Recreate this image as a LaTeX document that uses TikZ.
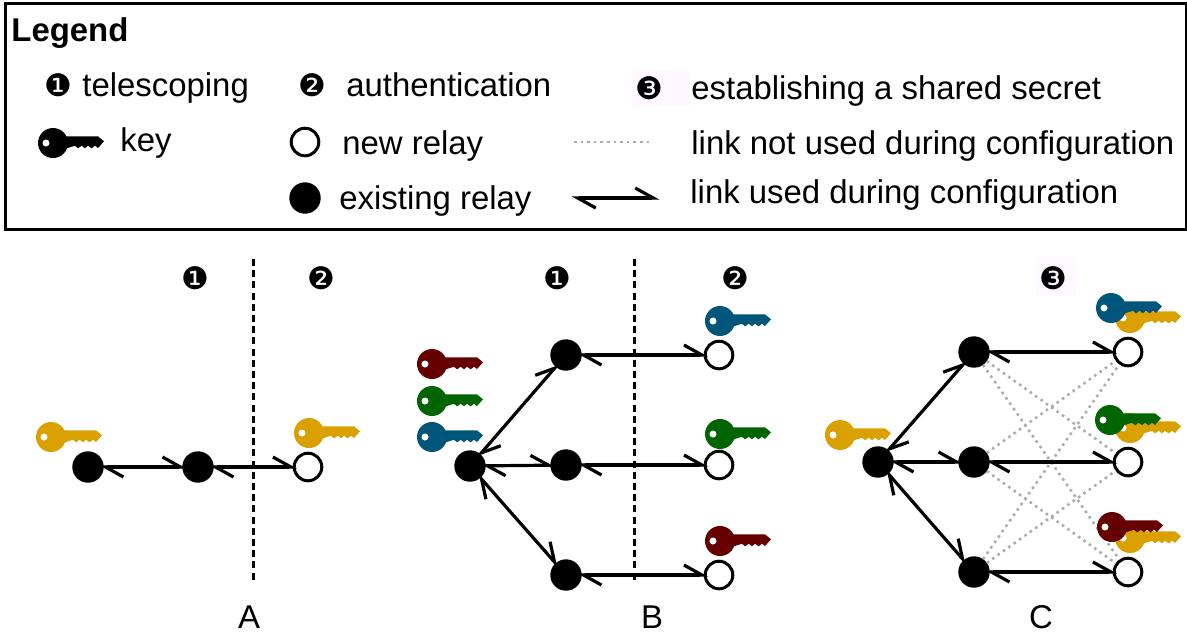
\documentclass[tikz,border=0pt]{standalone}
\usepackage{fontspec}
\setmainfont{Liberation Sans}
\newfontfamily\numfont{DejaVu Sans}
\usetikzlibrary{arrows.meta}
\definecolor{keygold}{HTML}{DAA000}
\definecolor{keyblue}{HTML}{00557A}
\definecolor{keygreen}{HTML}{006400}
\definecolor{keyred}{HTML}{660000}
\definecolor{numback}{HTML}{FFF8FF}
\tikzset{
    relay/.style={circle,draw=black,line width=1.5pt,inner sep=0pt,minimum size=13.8pt},
    newrelay/.style={relay,fill=white},
    oldrelay/.style={relay,fill=black,minimum size=14.2pt},
    usedlink/.style={line width=1.6pt,shorten <=-2.2pt,shorten >=-2.2pt,{Straight Barb[harpoon,length=9pt,width=10pt]}-{Straight Barb[harpoon,length=9pt,width=10pt]}},
    unusedlink/.style={draw=black!32,line width=1.3pt,dotted},
    cutline/.style={line width=1.5pt,dash pattern=on 3.5pt off 2.1pt},
    label/.style={anchor=base west,inner sep=0pt,font=\fontsize{16.45}{20}\selectfont},
    stagelabel/.style={anchor=base,inner sep=0pt,font=\fontsize{16.45}{20}\selectfont},
    stepnum/.style={inner sep=0pt,font=\numfont\fontsize{15.5}{18}\selectfont},
    pics/relaykey/.style={code={
        \fill[#1] (0,0) circle (15);
        \fill[#1] (10,-6.7) -- (45,-6.7) -- (51,-1.7) -- (45,5) -- (42,2.7) -- (38.7,5.3) -- (35,2.7) -- (32,5.3) -- (28.7,2.7) -- (25,5.3) -- (22,2.7) -- (10,6.5) -- cycle;
        \fill[white] (-7,0) circle (3.5);
    }}
}
\begin{document}
\begin{tikzpicture}[x=0.5pt,y=-0.5pt]
            \useasboundingbox (0,0) rectangle (1187,634);
            \draw[line width=1.5pt] (5,3) rectangle (1186,229);
            % legend
            \node[label,font=\fontsize{16.45}{20}\selectfont\bfseries] (title) at (11,41) {Legend};
            \node[stepnum] (n1) at (58,85) {❶};
            \node[label] (t1) at (82,96) {telescoping};
            \node[stepnum] (n2) at (312,85) {❷};
            \node[label] (t2) at (346,96) {authentication};
            \fill[numback] (632,70) rectangle (690,107);
            \node[stepnum] (n3) at (649,88) {❸};
            \node[label] (t3) at (691,99) {establishing a shared secret};
            \pic at (53,143) {relaykey=black};
            \node[label] (k) at (120,151) {key};
            \node[newrelay] (lnew) at (305,142) {};
            \node[label] (tnew) at (342,154) {new relay};
            \node[oldrelay] (lold) at (305,198) {};
            \node[label] (told) at (339,209) {existing relay};
            \coordinate (d1) at (574,142);
            \coordinate (d2) at (652,142);
            \draw[unusedlink,line width=0.9pt] (d1) -- (d2);
            \node[label] (tnot) at (691,154) {link not used during configuration};
            \coordinate (u1) at (576,198);
            \coordinate (u2) at (655,198);
            \draw[usedlink] (u1) -- (u2);
            \node[label] (tused) at (690,203) {link used during configuration};
            % A
            \node[stepnum] (an1) at (195,278) {❶};
            \node[stepnum] (an2) at (321,278) {❷};
            \coordinate (ac1) at (253,259);
            \coordinate (ac2) at (253,582);
            \draw[cutline] (ac1) -- (ac2);
            \node[oldrelay] (a1) at (88,467) {};
            \node[oldrelay] (a2) at (198,467) {};
            \node[newrelay] (a3) at (308,467) {};
            \draw[usedlink] (a1) -- (a2);
            \draw[usedlink] (a2) -- (a3);
            \pic at (51,437) {relaykey=keygold};
            \pic at (309,433) {relaykey=keygold};
            \node[stagelabel] (la) at (249,628) {A};
            % B
            \node[stepnum] (bn1) at (557,278) {❶};
            \node[stepnum] (bn2) at (735,278) {❷};
            \coordinate (bc1) at (634,259);
            \coordinate (bc2) at (634,582);
            \draw[cutline] (bc1) -- (bc2);
            \node[oldrelay] (b) at (470,466) {};
            \foreach \i/\y in {1/355,2/465,3/575} {
                \node[oldrelay] (bm\i) at (566,\y) {};
                \node[newrelay] (bw\i) at (719,\y) {};
                \draw[usedlink] (b) -- (bm\i);
                \draw[usedlink] (bm\i) -- (bw\i);
            }
            \pic at (432,364) {relaykey=keyred};
            \pic at (432,401) {relaykey=keygreen};
            \pic at (432,437) {relaykey=keyblue};
            \pic at (720,321) {relaykey=keyblue};
            \pic at (720,434) {relaykey=keygreen};
            \pic at (720,541) {relaykey=keyred};
            \node[stagelabel] (lb) at (652,628) {B};
            % C
            \fill[numback] (1036,258) rectangle (1076,296);
            \node[stepnum] (cn3) at (1053,278) {❸};
            \foreach \i/\y in {1/352,2/462,3/572} {
                \node[oldrelay] (cm\i) at (974,\y) {};
                \node[newrelay] (cw\i) at (1128,\y) {};
            }
            \foreach \i/\j in {1/2,1/3,2/1,2/3,3/1,3/2} {
                \draw[unusedlink] (cm\i) -- (cw\j);
            }
            \node[oldrelay] (c) at (878,462) {};
            \foreach \i in {1,2,3} {
                \draw[usedlink] (c) -- (cm\i);
                \draw[usedlink] (cm\i) -- (cw\i);
            }
            \pic at (840,435) {relaykey=keygold};
            \pic at (1130,318) {relaykey=keygold};
            \pic at (1111,308) {relaykey=keyblue};
            \pic at (1130,428) {relaykey=keygold};
            \pic at (1110,420) {relaykey=keygreen};
            \pic at (1130,538) {relaykey=keygold};
            \pic at (1112,527) {relaykey=keyred};
            \node[stagelabel] (lc) at (1041,628) {C};
\end{tikzpicture}
\end{document}
